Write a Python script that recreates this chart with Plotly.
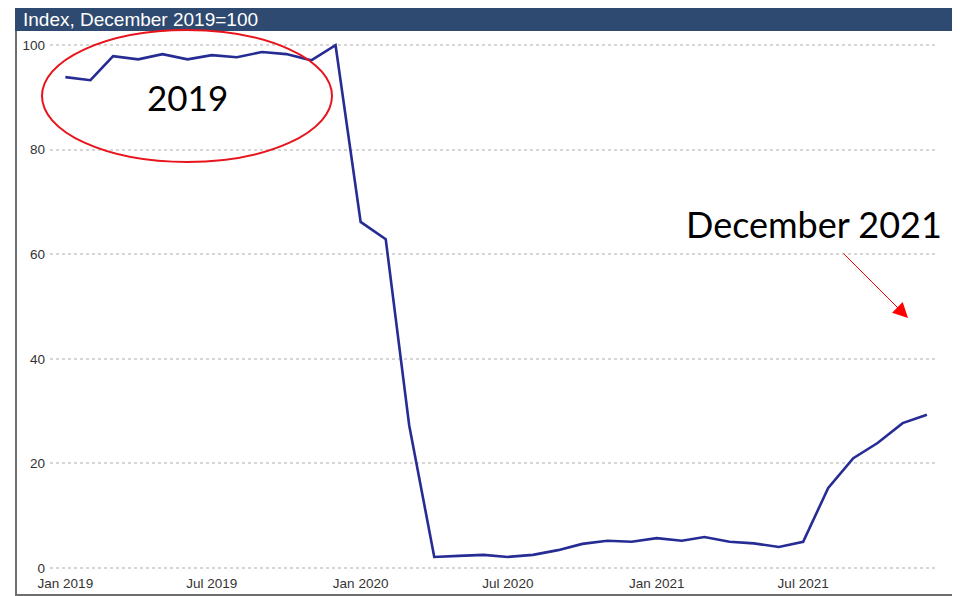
import plotly.graph_objects as go
import pandas as pd

months = pd.date_range("2019-01-01", "2021-12-01", freq="MS")
index_values = [
    93.9, 93.3, 97.9, 97.3, 98.3, 97.3, 98.1, 97.7, 98.7, 98.3, 97.1, 100.0,
    66.2, 62.9, 27.3, 2.1, 2.3, 2.5, 2.1, 2.5, 3.4, 4.6, 5.2, 5.0,
    5.7, 5.2, 5.9, 5.0, 4.7, 4.0, 5.0, 15.3, 21.0, 23.9, 27.7, 29.3,
]
y_ticks = [0, 20, 40, 60, 80, 100]
x_ticks = ["2019-01-01", "2019-07-01", "2020-01-01", "2020-07-01", "2021-01-01", "2021-07-01"]
x_tick_labels = ["Jan 2019", "Jul 2019", "Jan 2020", "Jul 2020", "Jan 2021", "Jul 2021"]
title_text = "Index, December 2019=100"

# page body has an 8px margin: figure origin sits at (8, 8) in the window
OFF = 8
W, H = 960, 596
# plot area in window pixels: x 50..935, y 40..570
L = 50 - OFF
T = 40 - OFF
R = W - (935 - OFF)
B = H - (570 - OFF)
pw, ph = W - L - R, H - T - B


def px(x):
    return (x - OFF - L) / pw


def py(y):
    return (H - B - (y - OFF)) / ph


fig = go.Figure()
fig.add_trace(go.Scatter(
    x=months, y=index_values, mode="lines",
    line=dict(color="#262c94", width=2.6),
    showlegend=False, hoverinfo="x+y",
))

tick_font = dict(family="Liberation Sans, Arial, sans-serif", size=13.5, color="#333333")

fig.update_layout(
    width=W, height=H,
    margin=dict(l=L, r=R, t=T, b=B),
    paper_bgcolor="white", plot_bgcolor="white",
    xaxis=dict(
        range=["2018-12-13", "2021-12-11"],
        tickvals=x_ticks, ticktext=x_tick_labels,
        showgrid=False, zeroline=False, showline=False, ticks="",
        tickfont=tick_font, ticklabelstandoff=3,
    ),
    yaxis=dict(
        range=[-0.4, 101.0],
        tickvals=y_ticks,
        showgrid=True, gridcolor="#d6d6d6", griddash="dot", gridwidth=1.5,
        zeroline=False, showline=False, ticks="",
        tickfont=tick_font, ticklabelstandoff=4,
    ),
    shapes=[
        # outer frame
        dict(type="rect", xref="paper", yref="paper",
             x0=px(16), x1=px(955), y0=py(595), y1=py(8),
             line=dict(color="#6e6e6e", width=2), fillcolor="rgba(0,0,0,0)", layer="below"),
        # header bar
        dict(type="rect", xref="paper", yref="paper",
             x0=px(15), x1=px(956), y0=py(31), y1=py(8),
             line=dict(width=0), fillcolor="#2f4a70"),
        # red ellipse
        dict(type="circle", xref="paper", yref="paper",
             x0=px(42), x1=px(332), y0=py(162), y1=py(30),
             line=dict(color="#e8141c", width=2), fillcolor="rgba(0,0,0,0)"),
    ],
    annotations=[
        dict(text=title_text, xref="paper", yref="paper",
             x=px(21), y=py(19.5), xanchor="left", yanchor="middle",
             showarrow=False,
             font=dict(family="Liberation Sans, Arial, sans-serif", size=19, color="white")),
        dict(text="2019", xref="paper", yref="paper",
             x=px(187), y=py(97), xanchor="center", yanchor="middle",
             showarrow=False,
             font=dict(family="Lato, sans-serif", size=35, color="black")),
        dict(text="December 2021", xref="paper", yref="paper",
             x=px(814), y=py(224), xanchor="center", yanchor="middle",
             showarrow=False,
             font=dict(family="Lato, sans-serif", size=36, color="black")),
        dict(text="", xref="paper", yref="paper",
             x=px(908), y=py(318), ax=-66, ay=-66,
             showarrow=True, arrowhead=2, arrowsize=3, arrowwidth=1,
             arrowcolor="#ff0000"),
    ],
)

fig.write_html("out.html")
